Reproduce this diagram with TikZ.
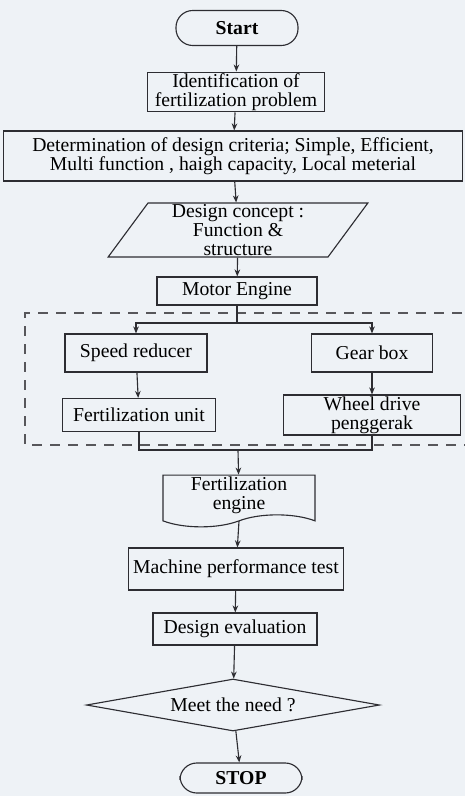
\documentclass[tikz,border=0pt]{standalone}
\usepackage{fontspec}
\setmainfont{Liberation Serif}
\usetikzlibrary{shapes.geometric,shapes.symbols,arrows.meta}
\definecolor{paper}{RGB}{238,242,246}
\definecolor{ink}{RGB}{45,45,50}
\begin{document}
\begin{tikzpicture}[x=0.025cm,y=-0.025cm]
            \tikzset{
                box/.style={draw=ink, line width=0.8pt, rectangle, align=center, inner sep=1pt, font=\fontsize{14}{13.5}\selectfont},
                term/.style={box, rounded corners=0.42cm, font=\fontsize{14}{13.5}\selectfont\bfseries},
                arc/.style={-{Stealth[length=5pt,width=4pt]}, draw=ink, line width=0.8pt},
                link/.style={-, draw=ink, line width=0.8pt}
            }
            \fill[paper] (0,0) rectangle (465,796);
            \clip (0,0) rectangle (465,796);

            \draw node[term, minimum width=3.05cm, minimum height=0.875cm] (start) at (237,28) {Start};
            \draw node[box, minimum width=4.425cm, minimum height=0.875cm] (ident) at (236,92) {Identification of\\fertilization problem};
            \draw node[box, minimum width=11.475cm, minimum height=1.25cm] (crit) at (233,156) {Determination of design criteria; Simple, Efficient,\\Multi function , haigh capacity, Local meterial};
            \draw node[box, trapezium, trapezium left angle=61, trapezium right angle=119, trapezium stretches=true, minimum width=6.5cm, minimum height=1.35cm] (concept) at (238,230) {Design concept :\\Function \&\\structure};
            \draw node[box, minimum width=4cm, minimum height=0.7cm] (motor) at (237,291) {Motor Engine};
            \draw node[box, minimum width=3.55cm, minimum height=0.95cm] (reducer) at (136,353) {Speed reducer};
            \draw node[box, minimum width=3.025cm, minimum height=0.95cm] (gear) at (372,353) {Gear box};
            \draw node[box, minimum width=3.825cm, minimum height=0.825cm] (unit) at (139,415) {Fertilization unit};
            \draw node[box, minimum width=4.425cm, minimum height=1cm] (wheel) at (372,415) {Wheel drive\\penggerak};
            \draw node[box, tape, tape bend top=none, tape bend bottom=in and out, tape bend height=0.3cm, minimum width=3.8cm, minimum height=1.25cm] (engine) at (239,495) {Fertilization\\engine};
            \draw node[box, minimum width=5.375cm, minimum height=1.05cm] (test) at (236,569) {Machine performance test};
            \draw node[box, minimum width=4.1cm, minimum height=0.8cm] (eval) at (235,629) {Design evaluation};
            \draw node[box, diamond, aspect=5.6, minimum width=7.325cm, minimum height=1.3cm] (need) at (233,705) {Meet the need ?};
            \draw node[term, minimum width=3.05cm, minimum height=0.75cm] (stop) at (241,778) {STOP};

            % split and join points
            \coordinate (split) at (237,323);
            \coordinate (join) at (238,450);

            % dashed group
            \draw[ink!80, line width=1.4pt, dash pattern=on 0.25cm off 0.2cm] (480,313) -| (25,445) -- (480,445);

            \foreach \x/\y in {%
                start/ident,ident/crit,crit/concept,concept/motor,%
                reducer/unit,gear/wheel,test/eval,eval/need,need/stop%
            }{
                \draw (\x) edge[arc] (\y);
            }
            \draw[link] (motor) -- (split);
            \draw[arc] (split) -| (reducer);
            \draw[arc] (split) -| (gear);
            \draw[link] (unit) |- (join);
            \draw[link] (wheel) |- (join);
            \draw[arc] (join) -- (engine);
            \draw[arc] (engine.south) ++(0,-4pt) -- (test);
\end{tikzpicture}
\end{document}
